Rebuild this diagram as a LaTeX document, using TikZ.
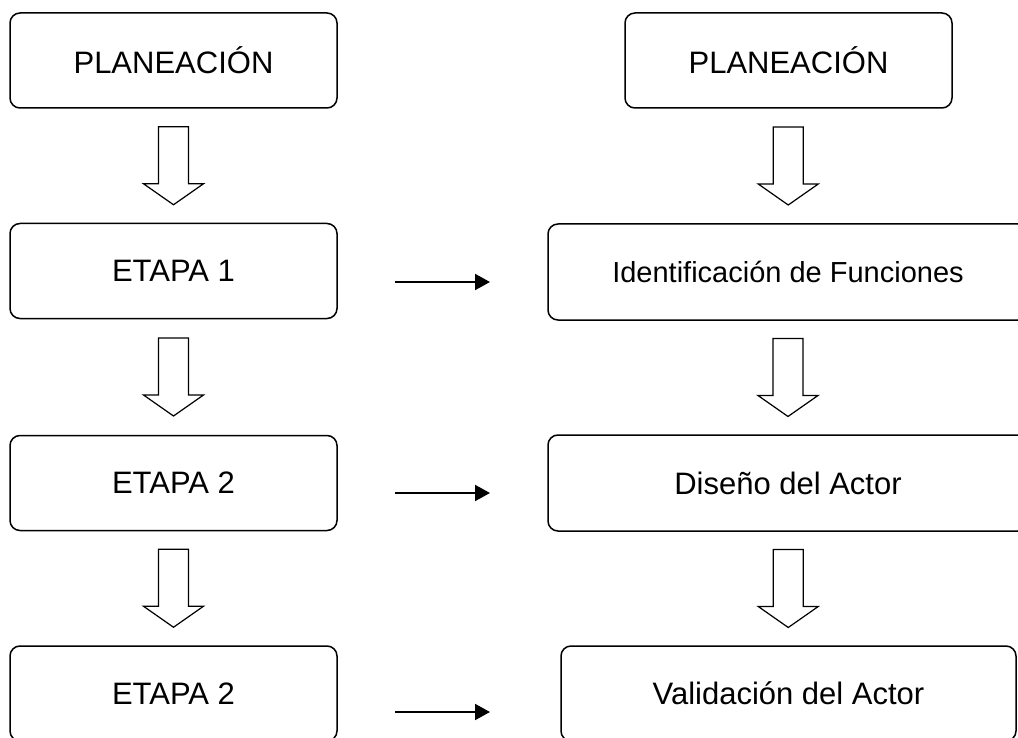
\documentclass[tikz,border=0pt]{standalone}
\usepackage{fontspec}
\setmainfont{Liberation Sans}
\usetikzlibrary{arrows.meta,calc}

\newcommand{\flechahueca}[2]{%
\draw [hueca] ($(#1.south)!0.5!(#2.north)+(-15,-39)$) -- ++(30,0) -- ++(0,57) -- ++(15,0)
  -- ++(-30,21) -- ++(-30,-21) -- ++(15,0) -- cycle;}

\begin{document}
\begin{tikzpicture}[x=1pt,y=-1pt,
  caja/.style={draw,rounded corners=10pt,line width=1.5pt,inner sep=0pt,
    minimum width=327pt,minimum height=95pt,font=\fontsize{31}{37}\selectfont},
  hueca/.style={draw,line width=1.2pt,fill=white},
  flecha/.style={line width=2pt,-{Triangle[length=15pt,width=16pt]}}]
\fill [white] (0,0) rectangle (1018,738);
\useasboundingbox (0,0) rectangle (1018,738);
\clip (0,0) rectangle (1018,738);
\node [caja] (plan1) at (173.5,60.5) {PLANEACIÓN};
\node [caja] (etapa1) at (173.5,271) {ETAPA 1};
\node [caja] (etapa2) at (173.5,483) {ETAPA 2};
\node [caja] (etapa3) at (173.5,693.5) {ETAPA 2};
\node [caja] (plan2) at (788.5,60.5) {PLANEACIÓN};
\node [caja,minimum width=480pt,minimum height=96pt,font=\fontsize{29}{35}\selectfont] (ident) at (788,272) {Identificación de Funciones};
\node [caja,minimum width=480pt,minimum height=96pt] (disenio) at (788,483) {Diseño del Actor};
\node [caja,minimum width=455pt] (valid) at (788.5,693.5) {Validación del Actor};
\flechahueca{plan1}{etapa1}
\flechahueca{etapa1}{etapa2}
\flechahueca{etapa2}{etapa3}
\flechahueca{plan2}{ident}
\flechahueca{ident}{disenio}
\flechahueca{disenio}{valid}
\coordinate (s1) at (395,282);
\coordinate (t1) at (490,282);
\coordinate (s2) at (395,493);
\coordinate (t2) at (490,493);
\coordinate (s3) at (395,712);
\coordinate (t3) at (490,712);
\draw [flecha] (s1) -- (t1);
\draw [flecha] (s2) -- (t2);
\draw [flecha] (s3) -- (t3);
\end{tikzpicture}
\end{document}
